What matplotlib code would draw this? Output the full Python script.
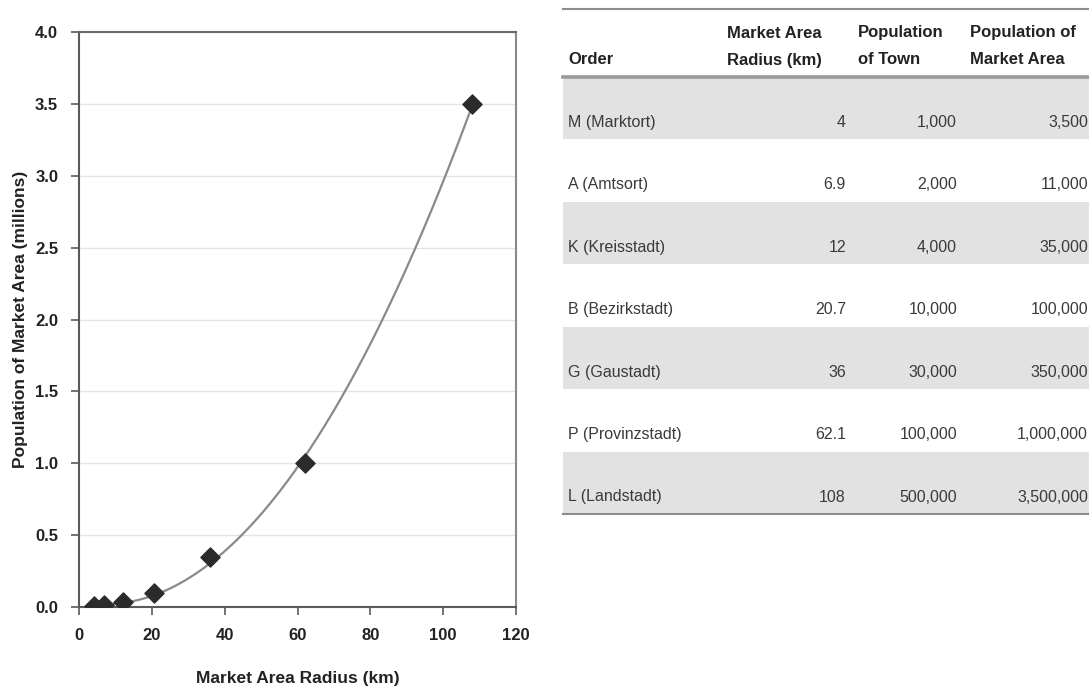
import numpy as np
import matplotlib
matplotlib.use("Agg")
import matplotlib.pyplot as plt

# ---- data ----
orders = ["M (Marktort)", "A (Amtsort)", "K (Kreisstadt)", "B (Bezirkstadt)",
          "G (Gaustadt)", "P (Provinzstadt)", "L (Landstadt)"]
radius_km = [4, 6.9, 12, 20.7, 36, 62.1, 108]
radius_labels = ["4", "6.9", "12", "20.7", "36", "62.1", "108"]
pop_town = [1000, 2000, 4000, 10000, 30000, 100000, 500000]
pop_market = [3500, 11000, 35000, 100000, 350000, 1000000, 3500000]
col_headers = ["Order", "Market Area\nRadius (km)", "Population\nof Town", "Population of\nMarket Area"]
x_ticks = [0, 20, 40, 60, 80, 100, 120]
y_ticks = [0.0, 0.5, 1.0, 1.5, 2.0, 2.5, 3.0, 3.5, 4.0]

W, H = 1089, 686
fig = plt.figure(figsize=(W / 100, H / 100), dpi=100)
plt.rcParams['font.family'] = ['Liberation Sans', 'DejaVu Sans']

# ---- chart ----
L, R, T, B = 79, 516, 32, 607
ax = fig.add_axes([L / W, 1 - B / H, (R - L) / W, (B - T) / H])
x = np.array(radius_km, float)
y = np.array(pop_market, float) / 1e6
coef = np.polyfit(x, y, 2)
xs = np.linspace(x.min(), x.max(), 300)
ax.plot(xs, np.polyval(coef, xs), color="#8a8a8a", lw=1.6, zorder=2)
ax.scatter(x, y, marker="D", s=95, color="#2b2b2b", zorder=3)
ax.set_xlim(0, 120)
ax.set_ylim(0, 4.0)
ax.set_xticks(x_ticks)
ax.set_yticks(y_ticks)
ax.set_xticklabels([str(v) for v in x_ticks])
ax.set_yticklabels([f"{v:.1f}" for v in y_ticks])
ax.grid(axis="y", color="#e4e4e4", lw=1.0)
ax.set_axisbelow(True)
for s in ax.spines.values():
    s.set_color("#5a5a5a")
    s.set_linewidth(1.5)
ax.spines["right"].set_color("#8a8a8a")
ax.spines["top"].set_color("#6a6a6a")
ax.tick_params(axis="both", direction="out", length=6, width=1.2, color="#5a5a5a",
               labelsize=12, labelcolor="#222222", pad=9)
for lab in ax.get_xticklabels() + ax.get_yticklabels():
    lab.set_fontweight("bold")
ax.set_xlabel("Market Area Radius (km)", fontsize=12.5, fontweight="bold", color="#222222", labelpad=20)
ax.set_ylabel("Population of Market Area (millions)", fontsize=12.5, fontweight="bold", color="#222222", labelpad=5)

# ---- table ----
tx = fig.add_axes([0, 0, 1, 1], facecolor="none")
tx.set_xlim(0, W)
tx.set_ylim(H, 0)
tx.axis("off")

t_left, t_right = 563, 1095
t_top, h_bot, t_bot = 9, 77, 514
row_h = (t_bot - h_bot) / len(orders)
for i in range(len(orders)):
    y0 = h_bot + i * row_h
    if i % 2 == 0:
        tx.fill_between([t_left, t_right], y0, y0 + row_h, color="#e2e2e2", lw=0, zorder=0)
tx.plot([t_left, t_right], [t_top, t_top], color="#8c8c8c", lw=1.5, zorder=2)
tx.plot([t_left, t_right], [h_bot, h_bot], color="#9a9a9a", lw=2.6, zorder=2)
tx.plot([t_left, t_right], [t_bot, t_bot], color="#8c8c8c", lw=1.5, zorder=2)

fam = ['Liberation Sans', 'DejaVu Sans']
hdr_x = [568, 727, 858, 970]
for hx, htxt in zip(hdr_x, col_headers):
    lines = htxt.split("\n")
    ys = [60] if len(lines) == 1 else [33, 60]
    for ly, ltxt in zip(ys, lines):
        tx.text(hx, ly, ltxt, ha="left", va="center", fontsize=12, fontweight="bold",
                color="#222222", family=fam)

col_right = [846, 957, 1088]
for i in range(len(orders)):
    yc = h_bot + i * row_h + row_h - 17
    tx.text(568, yc, orders[i], ha="left", va="center", fontsize=11.5, color="#3a3a3a", family=fam)
    tx.text(col_right[0], yc, radius_labels[i], ha="right", va="center", fontsize=11.5, color="#3a3a3a", family=fam)
    tx.text(col_right[1], yc, f"{pop_town[i]:,}", ha="right", va="center", fontsize=11.5, color="#3a3a3a", family=fam)
    tx.text(col_right[2], yc, f"{pop_market[i]:,}", ha="right", va="center", fontsize=11.5, color="#3a3a3a", family=fam)

fig.savefig("out.png", dpi=100)
